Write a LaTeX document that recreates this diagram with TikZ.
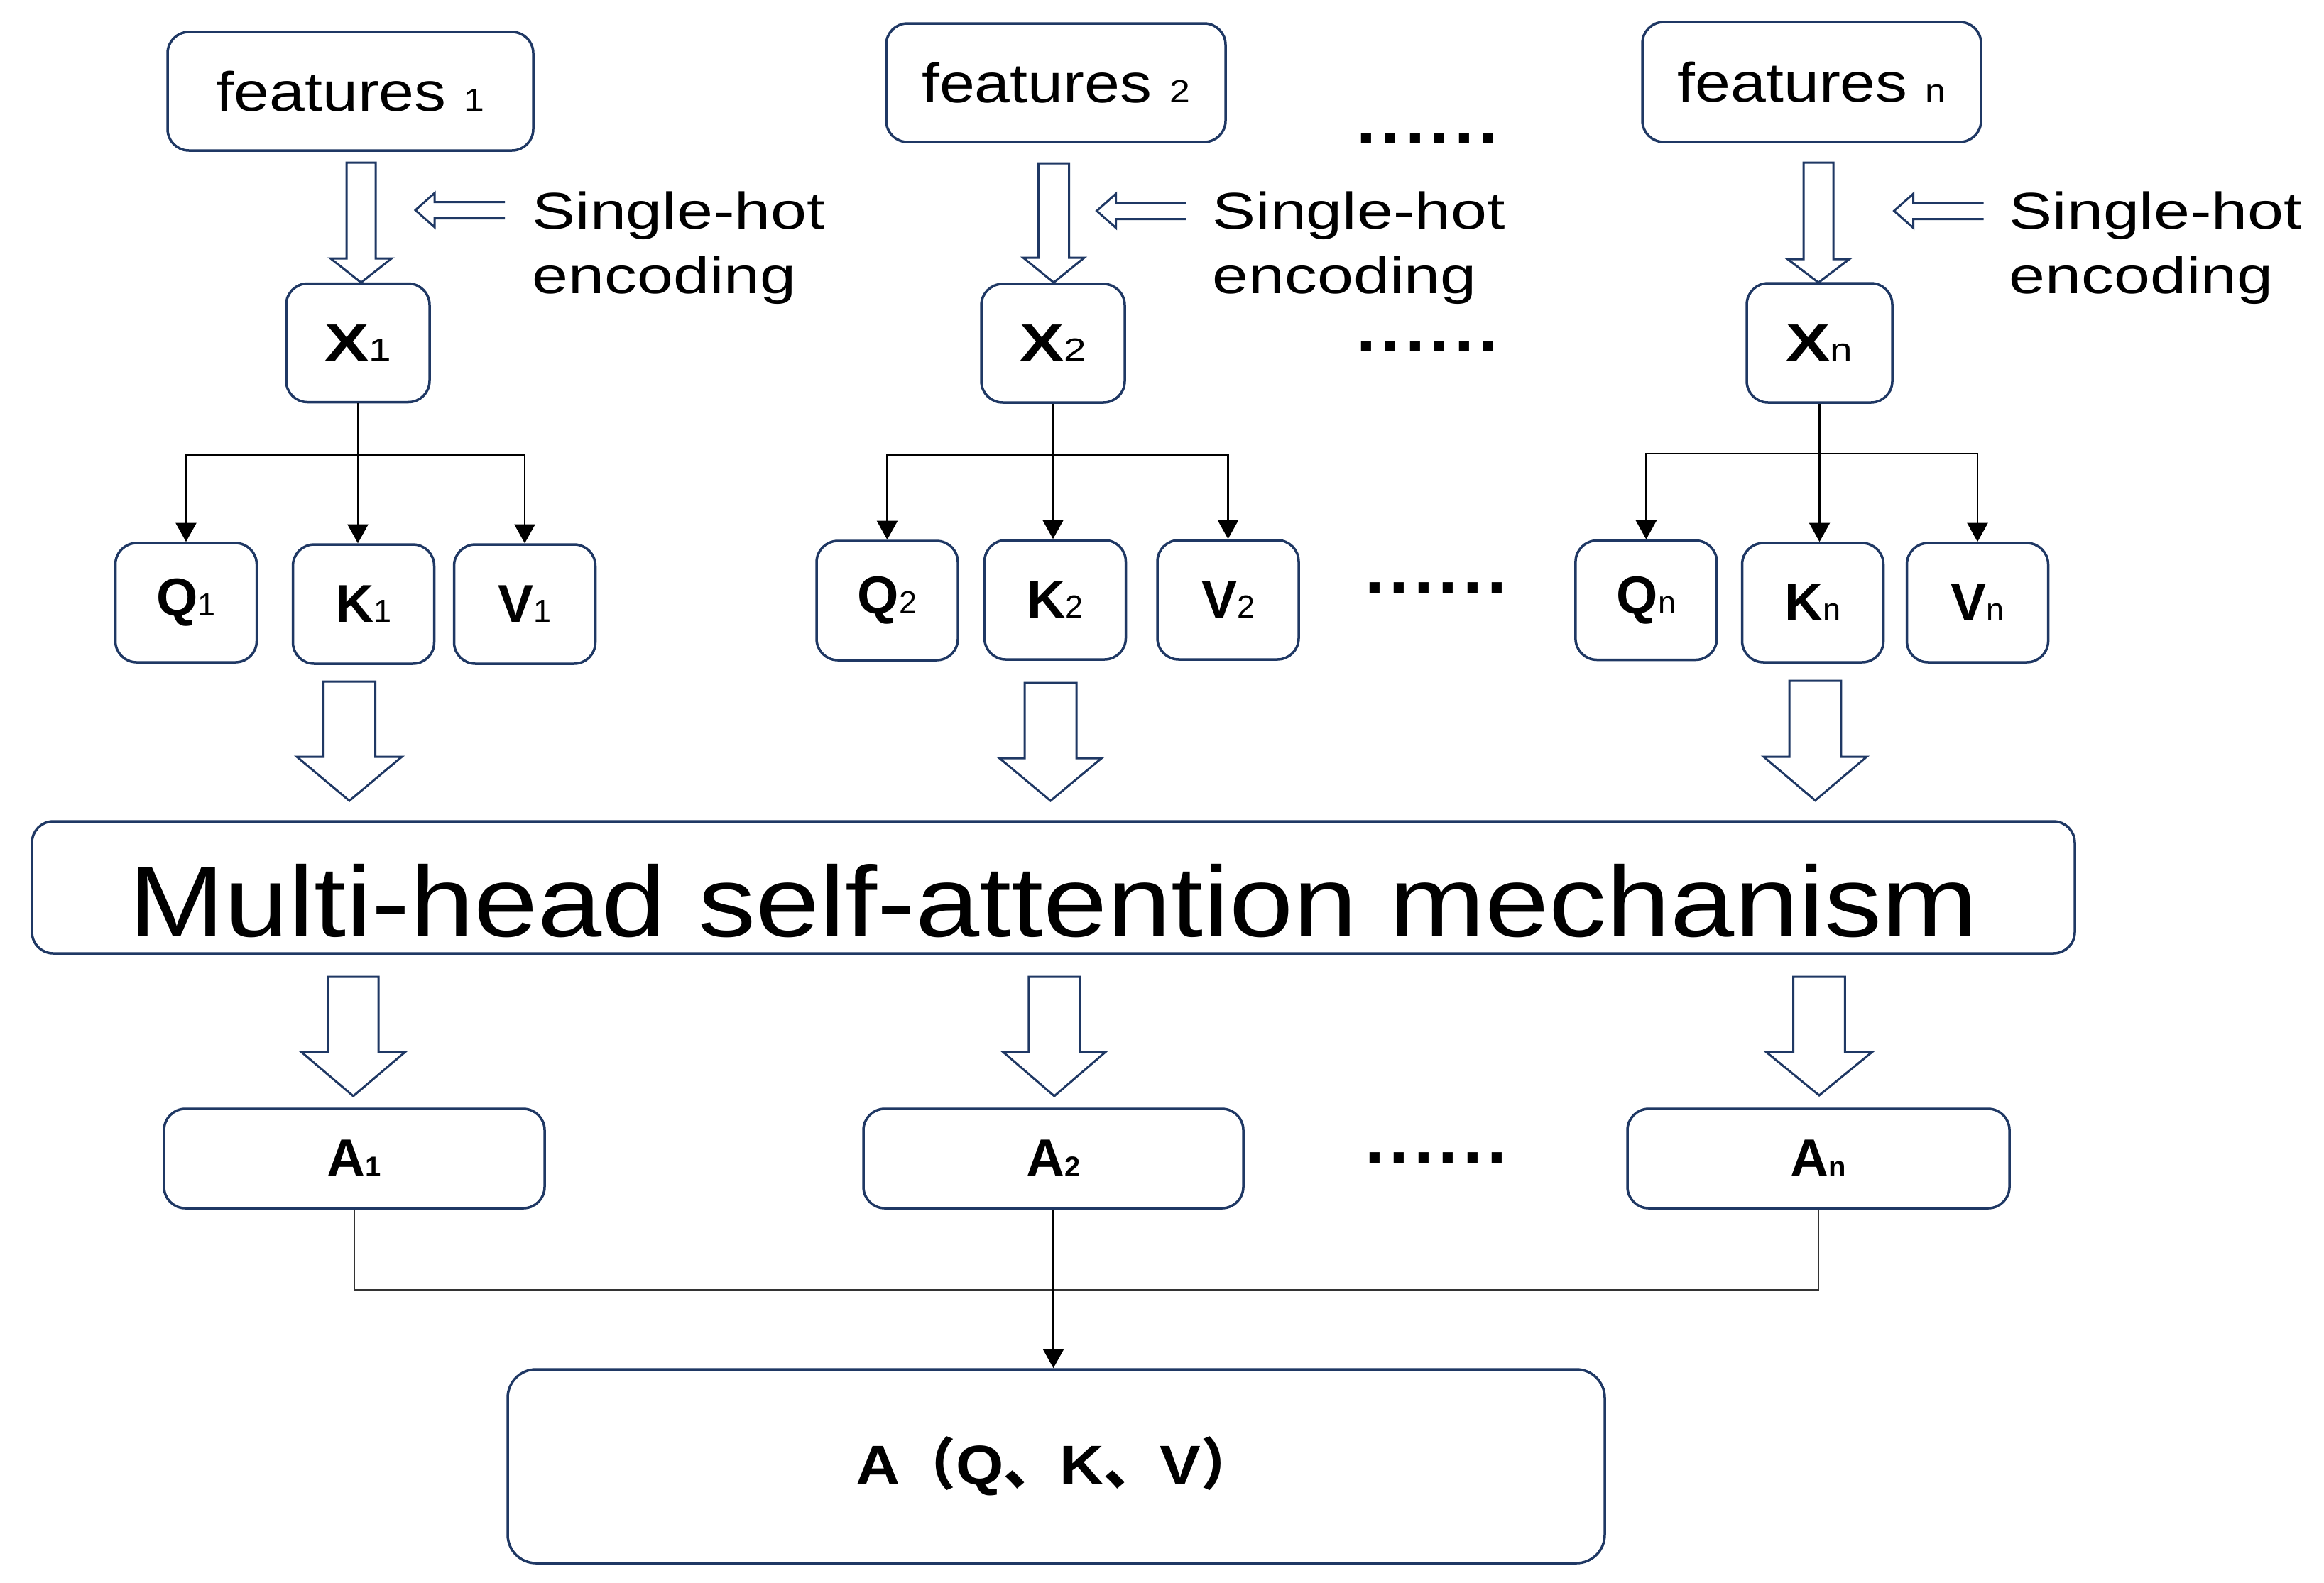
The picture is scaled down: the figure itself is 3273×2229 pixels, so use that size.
\documentclass[tikz,border=0pt]{standalone}
\usepackage{fontspec}
\setmainfont{Liberation Sans}
\newfontfamily\fA[FakeStretch=1.15]{Liberation Sans}
\newfontfamily\fB[FakeStretch=1.26]{Liberation Sans}
\newfontfamily\fC[FakeStretch=1.1]{Liberation Sans}
\newfontfamily\fDots[LetterSpace=6.6]{Liberation Sans}
\newfontfamily\cjk{Noto Sans CJK SC}
\usetikzlibrary{arrows.meta}
\definecolor{navy}{RGB}{31,56,100}
\newcommand\feat[1]{{\fA\fontsize{23.4}{28}\selectfont features {\fontsize{13.5}{14}\selectfont #1}}}
\newcommand\xl[2]{{\fB\fontsize{22.2}{24}\selectfont\bfseries #1}{\fB\fontsize{13.5}{14}\selectfont #2}}
\newcommand\ql[2]{{\fontsize{22.5}{24}\selectfont\bfseries #1}{\fontsize{13.5}{14}\selectfont #2}}
\newcommand\al[2]{{\fontsize{22.5}{24}\selectfont\bfseries #1}{\fontsize{12}{14}\selectfont\bfseries #2}}
\newcommand\barrow[6]{%
  \draw[blk] ({#1-#5},#2) -- ({#1+#5},#2) -- ({#1+#5},#3) -- ({#1+#6},#3) -- (#1,#4) -- ({#1-#6},#3) -- ({#1-#5},#3) -- cycle;}
\newcommand\sarrow[2]{%
  \draw[blk,fill=none] ({#1+126},{#2-11.5}) -- ({#1+27},{#2-11.5}) -- ({#1+27},{#2-24}) -- (#1,#2) -- ({#1+27},{#2+24}) -- ({#1+27},{#2+11.5}) -- ({#1+126},{#2+11.5});}
\begin{document}
\begin{tikzpicture}[x=0.3pt,y=-0.3pt,
  box/.style={draw=navy, line width=1.05pt, rounded corners=9pt, inner sep=0pt, fill=white},
  conn/.style={draw=black, line width=0.75pt},
  arr/.style={conn, -{Triangle[length=8pt,width=8.7pt]}},
  blk/.style={draw=navy, line width=0.9pt, fill=white, line join=miter},
  shtext/.style={anchor=base west, align=left, inner sep=0pt, font=\fB\fontsize{21.8}{27.3}\selectfont},
  dotrow/.style={anchor=base west, inner sep=0pt, font=\fDots\bfseries\fontsize{30}{30}\selectfont}
]
\fill[white] (0,0) rectangle (3273,2229);
\useasboundingbox (0,0) rectangle (3273,2229);

% feature boxes
\node[box, minimum width=154.5pt, minimum height=50.1pt] (f1) at (493.5,128.5) {\feat{1}};
\node[box, minimum width=143.4pt, minimum height=50.1pt] (f2) at (1487,116.5) {\feat{2}};
\node[box, minimum width=143.1pt, minimum height=50.7pt] (fn) at (2551.5,115.5) {\feat{n}};

% X boxes
\node[box, minimum width=60.6pt, minimum height=50.1pt] (x1) at (504,483) {\xl{X}{1}};
\node[box, minimum width=60.6pt, minimum height=50.1pt] (x2) at (1483,483.5) {\xl{X}{2}};
\node[box, minimum width=61.5pt, minimum height=50.4pt] (xn) at (2562.5,483) {\xl{X}{n}};

% Q K V boxes
\node[box, minimum width=59.7pt, minimum height=50.4pt] (q1) at (262,849) {\ql{Q}{1}};
\node[box, minimum width=59.7pt, minimum height=50.4pt] (k1) at (512,851) {\ql{K}{1}};
\node[box, minimum width=59.7pt, minimum height=50.4pt] (v1) at (739,851) {\ql{V}{1}};
\node[box, minimum width=59.7pt, minimum height=50.4pt] (q2) at (1249.5,846) {\ql{Q}{2}};
\node[box, minimum width=59.7pt, minimum height=50.4pt] (k2) at (1486,845) {\ql{K}{2}};
\node[box, minimum width=59.7pt, minimum height=50.4pt] (v2) at (1729.5,845) {\ql{V}{2}};
\node[box, minimum width=59.7pt, minimum height=50.4pt] (qn) at (2318.4,845.5) {\ql{Q}{n}};
\node[box, minimum width=59.7pt, minimum height=50.4pt] (kn) at (2553,849) {\ql{K}{n}};
\node[box, minimum width=59.7pt, minimum height=50.4pt] (vn) at (2785,849) {\ql{V}{n}};

% multi-head
\node[box, minimum width=863.1pt, minimum height=55.8pt, text height=41.4pt, text depth=0pt,
  font=\fA\fontsize{42.3}{46}\selectfont] (mh) at (1483.5,1250) {Multi-head self-attention mechanism};

% A boxes
\node[box, minimum width=160.8pt, minimum height=42pt] (a1) at (499,1632) {\al{A}{1}};
\node[box, minimum width=160.5pt, minimum height=42pt] (a2) at (1483.5,1632) {\al{A}{2}};
\node[box, minimum width=161.4pt, minimum height=42pt] (an) at (2561,1632) {\al{A}{n}};

\node[box, rounded corners=12pt, minimum width=463.5pt, minimum height=81.9pt,
  font=\fC\bfseries\fontsize{23.6}{26}\selectfont] (a) at (1487.5,2065.5) {A{\cjk （}Q{\cjk 、}K{\cjk 、}V{\cjk ）}};

% single-hot labels
\node[shtext] (sh1) at (749,413) {Single-hot\\encoding};
\node[shtext] (sh2) at (1707,413) {Single-hot\\encoding};
\node[shtext] (shn) at (2829,413) {Single-hot\\encoding};
\sarrow{585}{296}
\sarrow{1544.6}{297}
\sarrow{2667.5}{297}

% dots
\node[dotrow] (d1) at (1910,202) {......};
\node[dotrow] (d2) at (1910,495) {......};
\node[dotrow] (d3) at (1922,835) {......};
\node[dotrow] (d4) at (1922,1638) {......};

% block arrows features -> X
\barrow{508.5}{229}{364}{398}{20.5}{43}
\barrow{1484}{230}{363}{398}{21.5}{43}
\barrow{2561}{229}{365}{398}{21}{43.5}
% QKV -> multi-head
\barrow{492}{960}{1066}{1128}{36.5}{74}
\barrow{1479.5}{962}{1068}{1128}{36.5}{72}
\barrow{2556.4}{959}{1066}{1127.6}{36.4}{72.6}
% multi-head -> A
\barrow{497.5}{1376}{1482}{1544}{35.5}{73}
\barrow{1484.8}{1376}{1482}{1544}{36}{72}
\barrow{2562}{1376}{1482}{1543}{36.4}{74.5}

% trees
\coordinate (t1) at (x1.south |- 0,641);
\coordinate (t2) at (x2.south |- 0,641);
\coordinate (tn) at (xn.south |- 0,639);
\draw[conn] (x1.south) -- (t1);
\draw[arr] (t1) -- (t1 |- k1.north);
\draw[arr] (t1) -| (q1.north);
\draw[arr] (t1) -| (v1.north);
\draw[conn] (x2.south) -- (t2);
\draw[arr] (t2) -- (t2 |- k2.north);
\draw[arr] (t2) -| (q2.north);
\draw[arr] (t2) -| (v2.north);
\draw[conn] (xn.south) -- (tn);
\draw[arr] (tn) -- (tn |- kn.north);
\draw[arr] (tn) -| (qn.north);
\draw[arr] (tn) -| (vn.north);

% bottom merge
\draw[conn, draw=black!80] (a1.south) -- (a1.south |- 0,1817) -| (an.south);
\draw[arr] (a2.south) -- (a2.south |- a.north);
\end{tikzpicture}
\end{document}
